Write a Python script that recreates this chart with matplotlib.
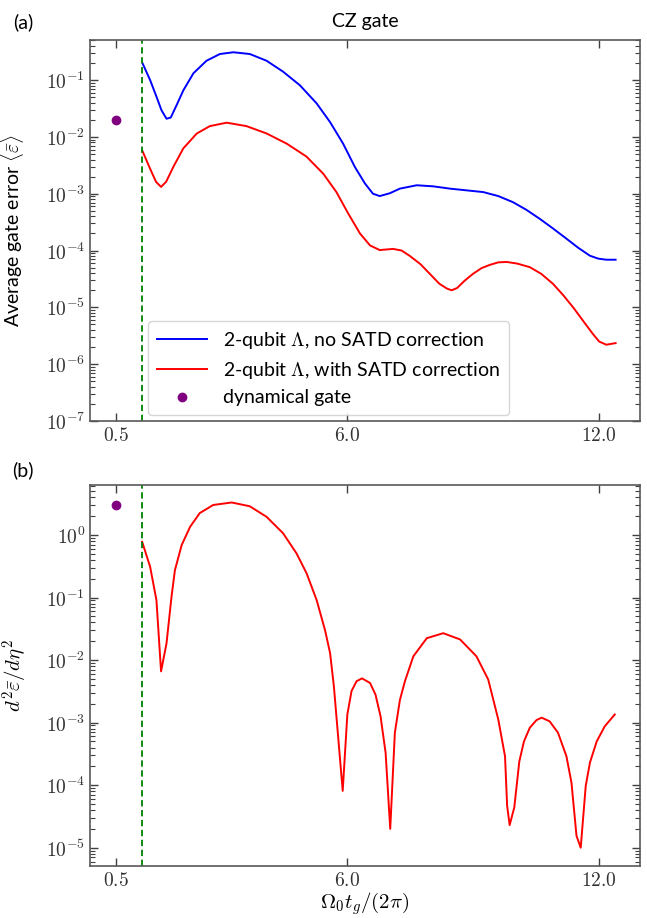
import math
import matplotlib
matplotlib.use("Agg")
import matplotlib.pyplot as plt
from matplotlib.ticker import LogLocator, FuncFormatter, FixedLocator, NullFormatter

plt.rcParams['font.family'] = ['Lato', 'DejaVu Sans']
plt.rcParams['mathtext.fontset'] = 'cm'

# panel (a): average gate error
x_no_corr = [1.14, 1.32, 1.47, 1.59, 1.71, 1.81, 1.95, 2.11, 2.35, 2.66, 2.98, 3.30,
             3.69, 4.09, 4.48, 4.88, 5.28, 5.60, 5.91, 6.19, 6.43, 6.62, 6.78, 7.02,
             7.26, 7.66, 8.05, 8.45, 9.24, 9.60, 9.95, 10.27, 10.59, 10.90, 11.22,
             11.50, 11.78, 11.98, 12.17, 12.39]
err_no_corr = [0.197, 0.100, 0.0513, 0.0295, 0.0209, 0.0219, 0.0363, 0.0661, 0.132,
               0.219, 0.288, 0.309, 0.288, 0.219, 0.141, 0.0813, 0.0389, 0.0182,
               7.6e-3, 2.95e-3, 1.51e-3, 1.0e-3, 9.1e-4, 1.02e-3, 1.23e-3, 1.41e-3,
               1.35e-3, 1.23e-3, 1.07e-3, 9.1e-4, 7.1e-4, 5.2e-4, 3.6e-4, 2.45e-4,
               1.62e-4, 1.12e-4, 8.1e-5, 7.2e-5, 6.9e-5, 6.9e-5]

x_corr = [1.14, 1.32, 1.46, 1.58, 1.70, 1.87, 2.11, 2.43, 2.74, 3.14, 3.61, 4.09,
          4.57, 5.04, 5.44, 5.75, 6.03, 6.31, 6.55, 6.78, 7.10, 7.30, 7.49, 7.75,
          7.97, 8.20, 8.38, 8.49, 8.62, 8.80, 9.00, 9.20, 9.40, 9.60, 9.80, 10.05,
          10.35, 10.62, 10.90, 11.15, 11.38, 11.62, 11.85, 12.00, 12.17, 12.39]
err_corr = [5.6e-3, 2.75e-3, 1.62e-3, 1.32e-3, 1.62e-3, 2.95e-3, 6.3e-3, 0.0115,
            0.0155, 0.0178, 0.0155, 0.0115, 7.6e-3, 4.5e-3, 2.24e-3, 1.07e-3, 4.5e-4,
            2.0e-4, 1.23e-4, 1.02e-4, 1.07e-4, 1.0e-4, 8.1e-5, 5.75e-5, 3.9e-5,
            2.6e-5, 2.14e-5, 2.0e-5, 2.19e-5, 2.95e-5, 3.9e-5, 4.9e-5, 5.6e-5, 6.2e-5,
            6.3e-5, 5.9e-5, 5.1e-5, 3.9e-5, 2.6e-5, 1.62e-5, 1.0e-5, 5.75e-6, 3.4e-6,
            2.5e-6, 2.2e-6, 2.35e-6]

x_dyn = [0.5]
err_dyn = [0.0197]
d2_dyn = [3.0]

x_cut = 1.13

# panel (b): second derivative
x_d2 = [1.13, 1.32, 1.47, 1.58, 1.71, 1.83, 1.91, 2.07, 2.27, 2.50, 2.82, 3.26, 3.69,
        4.09, 4.48, 4.80, 5.04, 5.28, 5.48, 5.60, 5.69, 5.90, 6.01, 6.11, 6.23, 6.36,
        6.55, 6.68, 6.80, 6.92, 7.03, 7.14, 7.26, 7.38, 7.58, 7.90, 8.29, 8.69, 9.08,
        9.36, 9.60, 9.76, 9.81, 9.87, 9.98, 10.10, 10.21, 10.35, 10.51, 10.63, 10.82,
        11.02, 11.22, 11.34, 11.46, 11.56, 11.68, 11.78, 11.94, 12.13, 12.37]
d2_corr = [0.78, 0.31, 0.091, 6.6e-3, 0.0186, 0.105, 0.275, 0.69, 1.35, 2.24, 3.02,
           3.31, 2.88, 1.95, 1.07, 0.51, 0.245, 0.091, 0.030, 0.0129, 3.8e-3, 8.1e-5,
           1.35e-3, 3.2e-3, 4.6e-3, 5.1e-3, 4.3e-3, 2.8e-3, 1.26e-3, 3.3e-4, 2.0e-5,
           6.9e-4, 2.3e-3, 4.6e-3, 0.0115, 0.0224, 0.0269, 0.0214, 0.0115, 4.9e-3,
           1.12e-3, 2.9e-4, 4.7e-5, 2.3e-5, 4.4e-5, 2.4e-4, 5.0e-4, 8.3e-4, 1.1e-3,
           1.2e-3, 1.05e-3, 6.9e-4, 2.9e-4, 1.1e-4, 1.55e-5, 1.0e-5, 9.8e-5, 2.3e-4,
           5.0e-4, 8.7e-4, 1.35e-3]

xticks = [0.5, 6.0, 12.0]
yticks_a = [1e-7, 1e-6, 1e-5, 1e-4, 1e-3, 1e-2, 1e-1]
yticks_b = [1e-5, 1e-4, 1e-3, 1e-2, 1e-1, 1e0]

W, H = 647, 918
fig = plt.figure(figsize=(W / 100, H / 100), dpi=100)
ax1 = fig.add_axes([90 / W, 1 - 421 / H, 550 / W, 381 / H])
ax2 = fig.add_axes([90 / W, 1 - 866 / H, 550 / W, 381 / H])


def style(ax, yticks):
    ax.set_yscale('log')
    ax.set_xlim(-0.11, 12.97)
    ax.xaxis.set_major_locator(FixedLocator(xticks))
    ax.xaxis.set_major_formatter(FuncFormatter(lambda v, p: r'$%.1f$' % v))
    ax.yaxis.set_major_locator(FixedLocator(yticks))
    ax.yaxis.set_minor_locator(LogLocator(base=10, subs=[2, 3, 4, 5, 6, 7, 8, 9], numticks=20))
    ax.yaxis.set_minor_formatter(NullFormatter())
    ax.yaxis.set_major_formatter(FuncFormatter(lambda v, p: r'$10^{%d}$' % round(math.log10(v))))
    ax.tick_params(which='both', direction='in', top=True, right=True, labelsize=14,
                   colors='0.25', labelcolor='0.2')
    ax.tick_params(which='major', length=6, width=1)
    ax.tick_params(which='minor', length=3.5, width=0.8)
    for s in ax.spines.values():
        s.set_color('0.35')
        s.set_linewidth(1.2)


style(ax1, yticks_a)
ax1.plot(x_no_corr, err_no_corr, color='blue', lw=1.4, label=r'2-qubit $\Lambda$, no SATD correction')
ax1.plot(x_corr, err_corr, color='red', lw=1.4, label=r'2-qubit $\Lambda$, with SATD correction')
ax1.plot(x_dyn, err_dyn, 'o', color='purple', ms=6, label='dynamical gate')
ax1.axvline(x_cut, color='green', ls=(0, (3.5, 2)), lw=1.3)
ax1.set_ylim(1e-7, 0.508)
ax1.set_ylabel(r'Average gate error $\langle\bar{\varepsilon}\rangle$', fontsize=14)
ax1.yaxis.set_label_coords(-0.116, 0.5)
ax1.legend(loc='lower left', bbox_to_anchor=(0.095, 0.0), borderaxespad=0.3,
           fontsize=14, handlelength=2.6, labelspacing=0.45, borderpad=0.45)

style(ax2, yticks_b)
ax2.plot(x_d2, d2_corr, color='red', lw=1.4)
ax2.plot(x_dyn, d2_dyn, 'o', color='purple', ms=6)
ax2.axvline(x_cut, color='green', ls=(0, (3.5, 2)), lw=1.3)
ax2.set_ylim(5.1e-6, 6.3)
ax2.set_ylabel(r'$d^2\bar{\varepsilon}/d\eta^2$', fontsize=15)
ax2.yaxis.set_label_coords(-0.109, 0.5)
ax2.set_xlabel(r'$\Omega_0 t_g/(2\pi)$', fontsize=15, labelpad=1)

fig.text(365 / W, 1 - 22 / H, 'CZ gate', ha='center', va='center', fontsize=14)
fig.text(23 / W, 1 - 22 / H, '(a)', ha='center', va='center', fontsize=14)
fig.text(23 / W, 1 - 470 / H, '(b)', ha='center', va='center', fontsize=14)

fig.savefig('out.png', dpi=100)
